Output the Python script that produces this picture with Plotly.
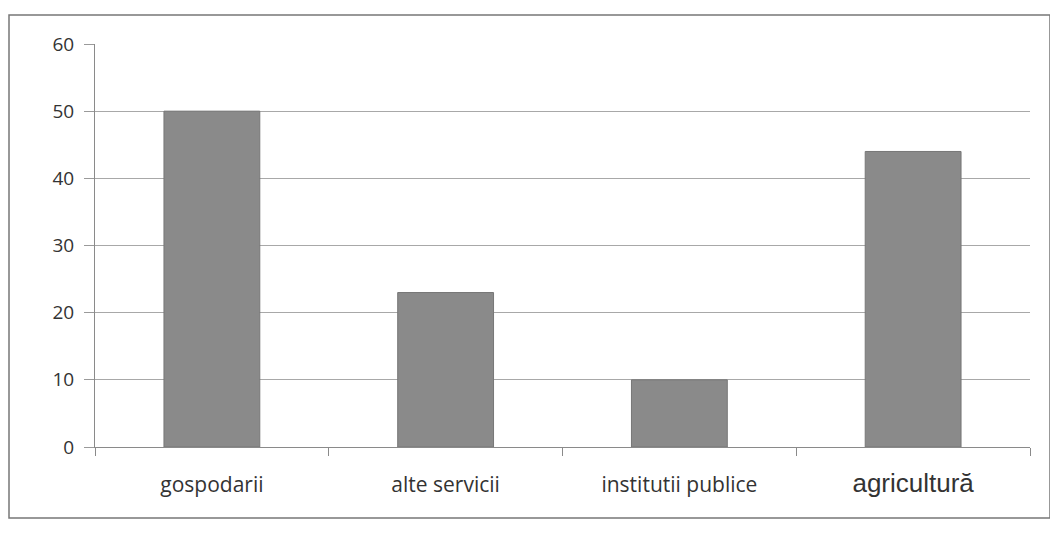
import plotly.graph_objects as go

categories = ["gospodarii", "alte servicii", "institutii publice", "agricultură"]
values = [50, 23, 10, 44]
y_ticks = [0, 10, 20, 30, 40, 50, 60]

tick_text = categories[:3] + [
    '<span style="font-family:Liberation Sans, Arial, sans-serif; font-size:26px">'
    + categories[3] + "</span>"
]

fig = go.Figure()
fig.add_trace(go.Bar(
    x=categories, y=values,
    marker=dict(color="#8a8a8a", line=dict(color="#777777", width=1)),
    width=0.41,
))

# page body has 8px margin, so figure origin sits at (8, 8)
OFF = 8
W, H = 1050, 532
L, R, T, B = 95 - OFF, 28, 44 - OFF, 93
pw, ph = W - L - R, H - T - B

fig.update_layout(
    width=W, height=H,
    margin=dict(l=L, r=R, t=T, b=B),
    paper_bgcolor="white", plot_bgcolor="white",
    showlegend=False,
    font=dict(family="Open Sans, Lato, sans-serif", size=21, color="#333333"),
    xaxis=dict(
        tickvals=categories, ticktext=tick_text,
        showline=True, linecolor="#8a8a8a", linewidth=1,
        ticks="outside", tickson="boundaries", ticklen=8, tickcolor="#8a8a8a",
        showgrid=False, ticklabelstandoff=19,
        tickfont=dict(size=21, color="#333333"),
    ),
    yaxis=dict(
        range=[0, 60], tickvals=y_ticks, ticktext=[str(v) for v in y_ticks],
        showline=True, linecolor="#8a8a8a", linewidth=1,
        ticks="outside", ticklen=10, tickcolor="#9a9a9a",
        showgrid=True, gridcolor="#a8a8a8", gridwidth=1,
        zeroline=False, ticklabelstandoff=6,
        tickfont=dict(size=19, color="#333333"),
    ),
    shapes=[dict(
        type="rect", xref="paper", yref="paper",
        x0=(9 - 95) / pw, x1=(1050 - 95) / pw,
        y0=(447 - 518) / ph, y1=(447 - 15) / ph,
        line=dict(color="#777777", width=1.5), fillcolor="rgba(0,0,0,0)",
    )],
)

fig.write_html("out.html")
